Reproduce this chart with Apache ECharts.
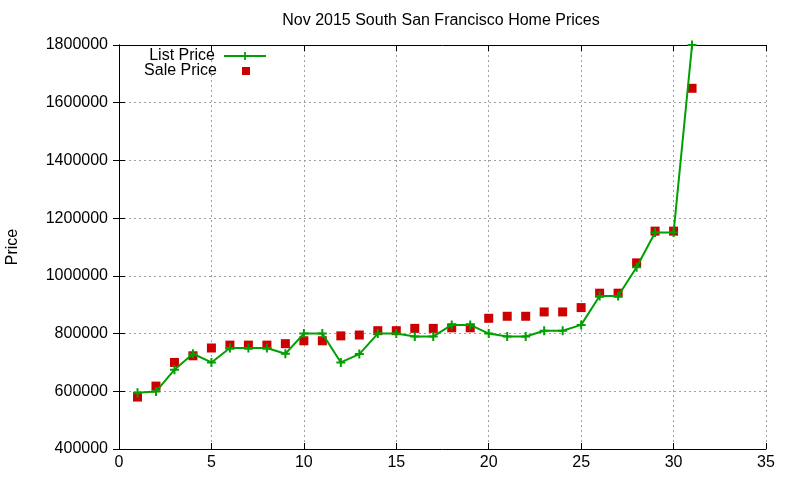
<!DOCTYPE html>
<html>
<head>
    <meta charset="utf-8">
    <title>ECharts</title>
    <script src="https://cdn.jsdelivr.net/npm/echarts@6/dist/echarts.min.js"></script>
</head>
<body style="margin:0;background:#fff;">
<div id="main" style="width: 800px;height:480px;"></div>
<script type="text/javascript">
    // day of month
    var days = [1, 2, 3, 4, 5, 6, 7, 8, 9, 10, 11, 12, 13, 14, 15, 16,
        17, 18, 19, 20, 21, 22, 23, 24, 25, 26, 27, 28, 29, 30, 31];
    var listPrice = [595000, 599000, 675000, 730000, 700000, 750000, 750000, 750000,
        730000, 800000, 800000, 700000, 729000, 800000, 800000, 790000,
        790000, 830000, 830000, 800000, 790000, 790000, 810000, 810000,
        830000, 930000, 930000, 1030000, 1150000, 1150000, 1800000];
    var salePrice = [580000, 618000, 700000, 723000, 750000, 760000, 760000, 760000,
        765000, 775000, 775000, 792000, 795000, 810000, 810000, 818000,
        818000, 820000, 820000, 853000, 860000, 860000, 875000, 875000,
        890000, 940000, 940000, 1045000, 1155000, 1155000, 1650000];
    var xTicks = [0, 35, 5];
    var yTicks = [400000, 1800000, 200000];

    var plusIcon = 'path://M0,3.5H9V5.5H0Z M3.5,0H5.5V9H3.5Z';
    var squareIcon = 'path://M0,0H10V10H0Z';
    var font = 'Liberation Sans, Arial, sans-serif';
    var fs = 16;

    function pairs(xs, ys) {
        var out = [];
        for (var i = 0; i < xs.length; i++) {
            out.push([xs[i], ys[i]]);
        }
        return out;
    }

    var myChart = echarts.init(document.getElementById('main'));

    var gridLine = {show: true, lineStyle: {color: '#a0a0a0', width: 1, type: [2, 3]}};
    var border = {show: true, lineStyle: {color: '#000', width: 1}};
    var tick = {show: true, inside: true, length: 6, lineStyle: {color: '#000'}};

    var option = {
        animation: false,
        title: {
            text: 'Nov 2015 South San Francisco Home Prices',
            left: 441,
            top: 13,
            padding: 0,
            textAlign: 'center',
            textStyle: {fontFamily: font, fontSize: fs, fontWeight: 'normal', color: '#000'}
        },
        legend: [
            {
                data: [{name: 'List Price'}],
                orient: 'vertical',
                align: 'right',
                right: 533,
                top: 48,
                padding: 0,
                itemWidth: 42,
                itemHeight: 10,
                textStyle: {fontFamily: font, fontSize: fs, color: '#000', padding: [0, 4, 0, 0]}
            },
            {
                data: [{name: 'Sale Price', icon: squareIcon}],
                orient: 'vertical',
                align: 'right',
                right: 550,
                top: 63,
                padding: 0,
                itemWidth: 8,
                itemHeight: 8,
                textStyle: {fontFamily: font, fontSize: fs, color: '#000', padding: [0, 20, 0, 0]}
            }
        ],
        grid: {left: 119, right: 34, top: 45, bottom: 31, outerBoundsMode: 'none', containLabel: false},
        xAxis: [
            {
                type: 'value',
                min: xTicks[0], max: xTicks[1], interval: xTicks[2],
                axisLine: border,
                axisTick: tick,
                splitLine: gridLine,
                axisLabel: {fontFamily: font, fontSize: fs, color: '#000', margin: 6}
            },
            {
                type: 'value', position: 'top',
                min: xTicks[0], max: xTicks[1], interval: xTicks[2],
                axisLine: border,
                axisTick: tick,
                splitLine: {show: false},
                axisLabel: {show: false}
            }
        ],
        yAxis: [
            {
                type: 'value',
                min: yTicks[0], max: yTicks[1], interval: yTicks[2],
                name: 'Price',
                nameLocation: 'middle',
                nameRotate: 90,
                nameGap: 98,
                nameTextStyle: {fontFamily: font, fontSize: fs, color: '#000'},
                axisLine: border,
                axisTick: tick,
                splitLine: gridLine,
                axisLabel: {
                    fontFamily: font, fontSize: fs, color: '#000', margin: 11,
                    formatter: function (v) { return String(v); }
                }
            },
            {
                type: 'value', position: 'right',
                min: yTicks[0], max: yTicks[1], interval: yTicks[2],
                axisLine: border,
                axisTick: tick,
                splitLine: {show: false},
                axisLabel: {show: false}
            }
        ],
        series: [
            {
                name: 'List Price',
                type: 'line',
                data: pairs(days, listPrice),
                symbol: plusIcon,
                symbolSize: 9,
                showAllSymbol: true,
                color: '#00a000',
                lineStyle: {width: 2, color: '#00a000'},
                itemStyle: {color: '#00a000'}
            },
            {
                name: 'Sale Price',
                type: 'scatter',
                data: pairs(days, salePrice),
                symbol: 'rect',
                symbolSize: 9,
                color: '#cc0000',
                itemStyle: {color: '#cc0000', opacity: 1}
            }
        ]
    };

    myChart.setOption(option);
</script>
</body>
</html>
